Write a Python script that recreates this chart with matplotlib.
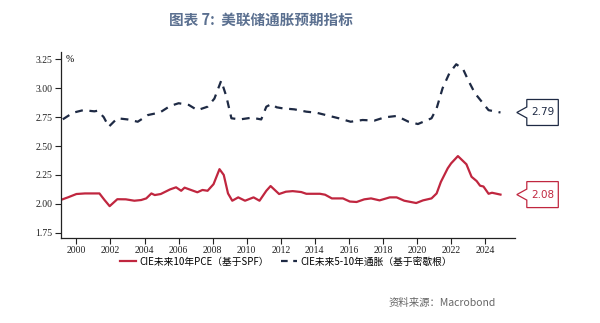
import matplotlib.pyplot as plt
from matplotlib.patches import Polygon
from matplotlib.lines import Line2D

plt.rcParams['font.family'] = ['Noto Sans CJK SC', 'DejaVu Sans']

# CIE 未来10年PCE（基于SPF）
pce_x = [1999.2, 1999.5, 2000.0, 2000.5, 2001.35, 2001.65, 2001.95, 2002.4, 2002.9, 2003.4,
         2003.8, 2004.1, 2004.4, 2004.6, 2004.95, 2005.5, 2005.85, 2006.15, 2006.35, 2007.1,
         2007.4, 2007.7, 2008.05, 2008.4, 2008.65, 2008.9, 2009.15, 2009.5, 2009.9, 2010.4,
         2010.75, 2011.15, 2011.4, 2011.9, 2012.3, 2012.7, 2013.2, 2013.5, 2014.3, 2014.6,
         2015.0, 2015.65, 2016.05, 2016.45, 2016.9, 2017.3, 2017.8, 2018.4, 2018.8, 2019.25,
         2019.95, 2020.35, 2020.85, 2021.15, 2021.4, 2021.8, 2022.0, 2022.4, 2022.9, 2023.2,
         2023.5, 2023.7, 2023.9, 2024.2, 2024.4, 2024.9]
pce_y = [2.04, 2.056, 2.085, 2.09, 2.09, 2.033, 1.98, 2.04, 2.039, 2.027,
         2.033, 2.047, 2.09, 2.076, 2.085, 2.125, 2.143, 2.113, 2.14, 2.10,
         2.12, 2.113, 2.17, 2.30, 2.25, 2.09, 2.027, 2.056, 2.027, 2.056,
         2.027, 2.113, 2.154, 2.085, 2.105, 2.11, 2.102, 2.087, 2.087, 2.079,
         2.047, 2.047, 2.02, 2.016, 2.039, 2.047, 2.03, 2.056, 2.056, 2.027,
         2.007, 2.03, 2.047, 2.09, 2.19, 2.307, 2.35, 2.413, 2.342, 2.234,
         2.197, 2.157, 2.15, 2.087, 2.096, 2.08]

# CIE 未来5-10年通胀（基于密歇根）
mich_x = [1999.2, 1999.8, 2000.4, 2001.05, 2001.25, 2001.6, 2001.9, 2002.4, 2003.0, 2003.6,
          2004.2, 2004.9, 2005.5, 2006.0, 2006.6, 2007.1, 2007.7, 2008.1, 2008.5, 2008.8,
          2009.1, 2009.6, 2010.3, 2010.85, 2011.15, 2011.45, 2011.75, 2012.1, 2012.8, 2013.5,
          2014.1, 2014.8, 2015.4, 2016.1, 2016.8, 2017.5, 2018.1, 2018.8, 2019.5, 2020.05,
          2020.85, 2021.15, 2021.5, 2021.9, 2022.3, 2022.7, 2023.0, 2023.4, 2023.8, 2024.2,
          2024.9]
mich_y = [2.731, 2.788, 2.81, 2.80, 2.805, 2.75, 2.667, 2.74, 2.73, 2.71,
          2.768, 2.79, 2.846, 2.87, 2.855, 2.81, 2.84, 2.91, 3.065, 2.93,
          2.74, 2.73, 2.745, 2.73, 2.84, 2.863, 2.835, 2.826, 2.817, 2.797,
          2.788, 2.762, 2.74, 2.71, 2.725, 2.72, 2.748, 2.76, 2.71, 2.69,
          2.74, 2.826, 3.0, 3.13, 3.207, 3.166, 3.07, 2.956, 2.883, 2.81,
          2.79]

year_ticks = list(range(2000, 2025, 2))
y_ticks = [1.75, 2.00, 2.25, 2.50, 2.75, 3.00, 3.25]

red = '#c0263f'
navy = '#1e2a44'

fig = plt.figure(figsize=(6, 3.23), dpi=100)
ax = fig.add_axes([0.101, 0.264, 0.757, 0.575])

ax.plot(pce_x, pce_y, color=red, lw=1.6, label='CIE未来10年PCE（基于SPF）')
ax.plot(mich_x, mich_y, color=navy, lw=1.6, ls=(0, (3.5, 3)),
        label='CIE未来5-10年通胀（基于密歇根）')

ax.set_xlim(1999.07, 2025.74)
ax.set_ylim(1.707, 3.313)
ax.set_xticks(year_ticks)
ax.set_xticklabels([str(y) for y in year_ticks], family='Liberation Serif', fontsize=7)
ax.set_yticks(y_ticks)
ax.set_yticklabels([f'{v:.2f}' for v in y_ticks], family='Liberation Serif', fontsize=7)
ax.tick_params(direction='out', length=4, width=0.8, colors='#222222', pad=2)
for s in ['top', 'right']:
    ax.spines[s].set_visible(False)
for s in ['left', 'bottom']:
    ax.spines[s].set_linewidth(0.9)
    ax.spines[s].set_color('#222222')
ax.text(0.012, 0.985, '%', transform=ax.transAxes, fontsize=7,
        family='Liberation Serif', va='top', ha='left')

# 末值标注框
def callout(value, color):
    _, yp = ax.transData.transform((2025, value))
    x0 = ax.transAxes.transform((1, 0))[0]
    px = [x0 + 2, x0 + 12, x0 + 12, x0 + 43.5, x0 + 43.5, x0 + 12, x0 + 12]
    py = [yp, yp + 5.5, yp + 13, yp + 13, yp - 13, yp - 13, yp - 5.5]
    pts = fig.transFigure.inverted().transform(list(zip(px, py)))
    fig.patches.append(Polygon(pts, closed=True, fill=True, facecolor='white',
                               edgecolor=color, lw=0.9, transform=fig.transFigure))
    tx, ty = fig.transFigure.inverted().transform((x0 + 28, yp))
    fig.text(tx, ty, f'{value:.2f}', color=color, fontsize=7.5, family='DejaVu Sans',
             ha='center', va='center')

callout(mich_y[-1], navy)
callout(pce_y[-1], red)

handles = [Line2D([], [], color=red, lw=1.6),
           Line2D([], [], color=navy, lw=1.6, ls=(0, (3, 2.5)))]
fig.legend(handles, ['CIE未来10年PCE（基于SPF）', 'CIE未来5-10年通胀（基于密歇根）'],
           loc='center', bbox_to_anchor=(0.477, 0.19), ncol=2, frameon=False,
           fontsize=7, handlelength=1.6, handletextpad=0.4, columnspacing=1.2)

fig.text(0.435, 0.938, '图表 7:  美联储通胀预期指标', ha='center', va='center',
         fontsize=10.5, fontweight='bold', color='#5b7090')
fig.text(0.648, 0.062, '资料来源：Macrobond', ha='left', va='center',
         fontsize=7.5, color='#666666')

fig.savefig('out.png', dpi=100, facecolor='white')
